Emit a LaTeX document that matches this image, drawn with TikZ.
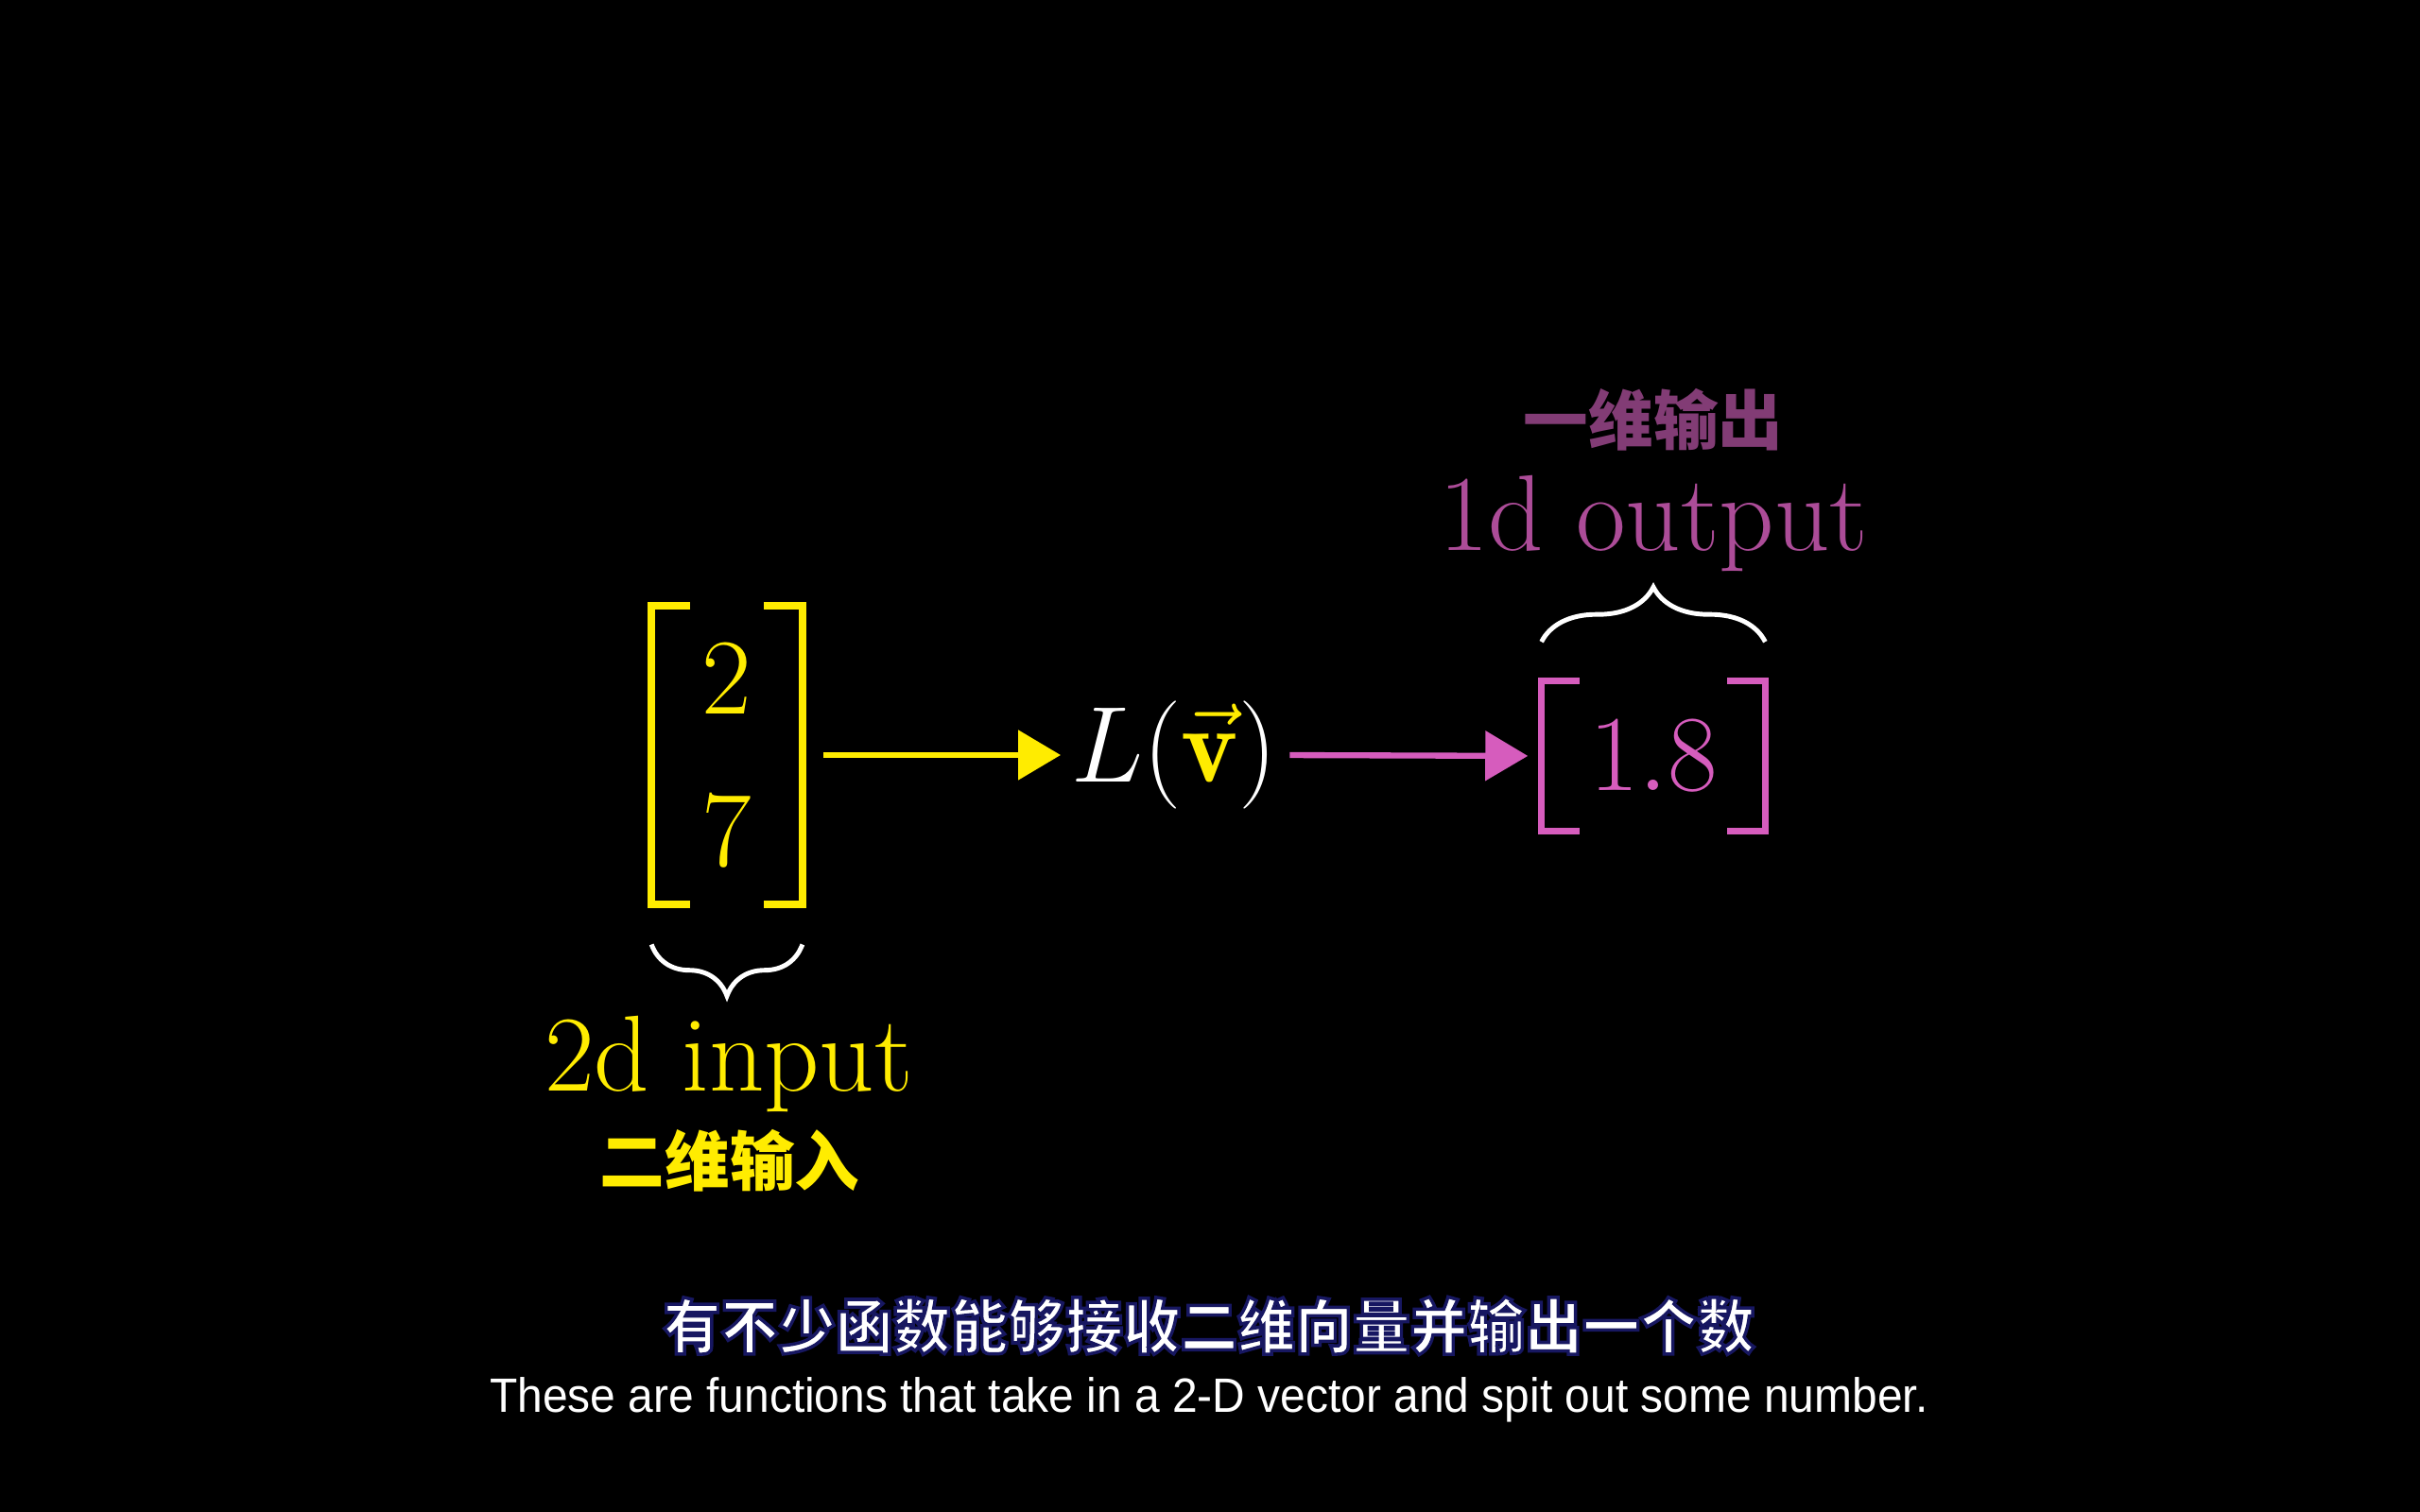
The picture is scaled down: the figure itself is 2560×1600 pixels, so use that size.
\documentclass[tikz,border=0pt]{standalone}
\usepackage{fix-cm}
\usepackage{amsmath,amssymb,bm}
\usepackage{xcolor}
\usepackage{fontspec}
\usepackage{tikz}
\usetikzlibrary{arrows.meta, positioning, calc, decorations.pathreplacing}
\newfontfamily\cjk{Noto Sans CJK SC}
\newfontfamily\subsans{Liberation Sans}
\definecolor{inyellow}{RGB}{255,236,0}
\definecolor{outpink}{RGB}{214,92,189}
\definecolor{fadepink}{RGB}{172,76,152}
\definecolor{dimpink}{RGB}{130,60,117}
% white letters, navy edge (fill then stroke)
\newcommand{\navyedge}[1]{\special{pdf:literal direct 2 Tr 1.0 w 0.09 0.09 0.38 RG}#1\special{pdf:literal direct 0 Tr}}

\begin{document}
\begin{tikzpicture}[
    x=0.01cm, y=0.01cm,
    mathtxt/.style={font=\fontsize{32.5}{39}\selectfont, inner sep=0pt},
    vecbox/.style={rectangle, inner sep=0pt, align=center, font=\fontsize{32.5}{45.8}\selectfont},
    bracketline/.style={line width=2.3pt},
    arrow/.style={-{Triangle[length=12.8pt, width=14.7pt]}, line width=1.8pt},
    brace/.style={decorate, decoration={brace, amplitude=15.5pt}, white, line width=1.4pt},
    textlbl/.style={font=\fontsize{32.5}{39}\selectfont, inner sep=0pt},
    cnlabel/.style={font=\cjk\bfseries\fontsize{19.5}{24}\selectfont, inner sep=0pt}
]
    \fill[black] (0,0) rectangle (2560,1600);
    \useasboundingbox (0,0) rectangle (2560,1600);

    % vectors and function
    \node[vecbox, minimum width=45pt, minimum height=89.6pt, inyellow] (vecin) at (769,801) {$2$\\$7$};
    \node[mathtxt, white] (func) at (1242,801) {$L(\textcolor{inyellow}{\vec{\mathbf{v}}})$};
    \node[vecbox, minimum width=66.9pt, minimum height=44.7pt, outpink] (vecout) at (1749,800) {$1.8$};

    % brackets
    \draw[bracketline, inyellow] ($(vecin.north west)+(41,0)$) -- (vecin.north west) -- (vecin.south west) -- ++(41,0);
    \draw[bracketline, inyellow] ($(vecin.north east)+(-41,0)$) -- (vecin.north east) -- (vecin.south east) -- ++(-41,0);
    \draw[bracketline, outpink, line width=2pt] ($(vecout.north west)+(40,0)$) -- (vecout.north west) -- (vecout.south west) -- ++(40,0);
    \draw[bracketline, outpink, line width=2pt] ($(vecout.north east)+(-40,0)$) -- (vecout.north east) -- (vecout.south east) -- ++(-40,0);

    \draw[arrow, inyellow, shorten <=6.3pt, shorten >=3pt] (vecin.east) -- (func.west);
    \draw[arrow, outpink, shorten <=3.7pt, shorten >=4.1pt] (func.east) -- (vecout.west);

    % braces and labels
    \draw[brace] ([yshift=-12pt]vecin.south east) -- ([yshift=-12pt]vecin.south west);
    \draw[brace, decoration={amplitude=16.5pt}] ([yshift=11.8pt]vecout.north west) -- ([yshift=11.8pt]vecout.north east);

    \node[textlbl, inyellow, anchor=base] (inlbl) at (771,445) {2d input};
    \node[cnlabel, inyellow] (incn) at (772,372) {二维输入};
    \node[textlbl, fadepink, anchor=base] (outlbl) at (1749,1017) {1d output};
    \node[cnlabel, dimpink] (outcn) at (1749,1156) {一维输出};

    % subtitles
    \node[font=\cjk\bfseries\fontsize{18}{22}\selectfont, white, inner sep=0pt, xscale=0.96] (subcn) at (1279,197) {\navyedge{有不少函数能够接收二维向量并输出一个数}};
    \node[font=\subsans\fontsize{14.5}{18}\selectfont, white, inner sep=0pt, xscale=0.94] (suben) at (1279,119) {These are functions that take in a 2-D vector and spit out some number.};
\end{tikzpicture}
\end{document}
